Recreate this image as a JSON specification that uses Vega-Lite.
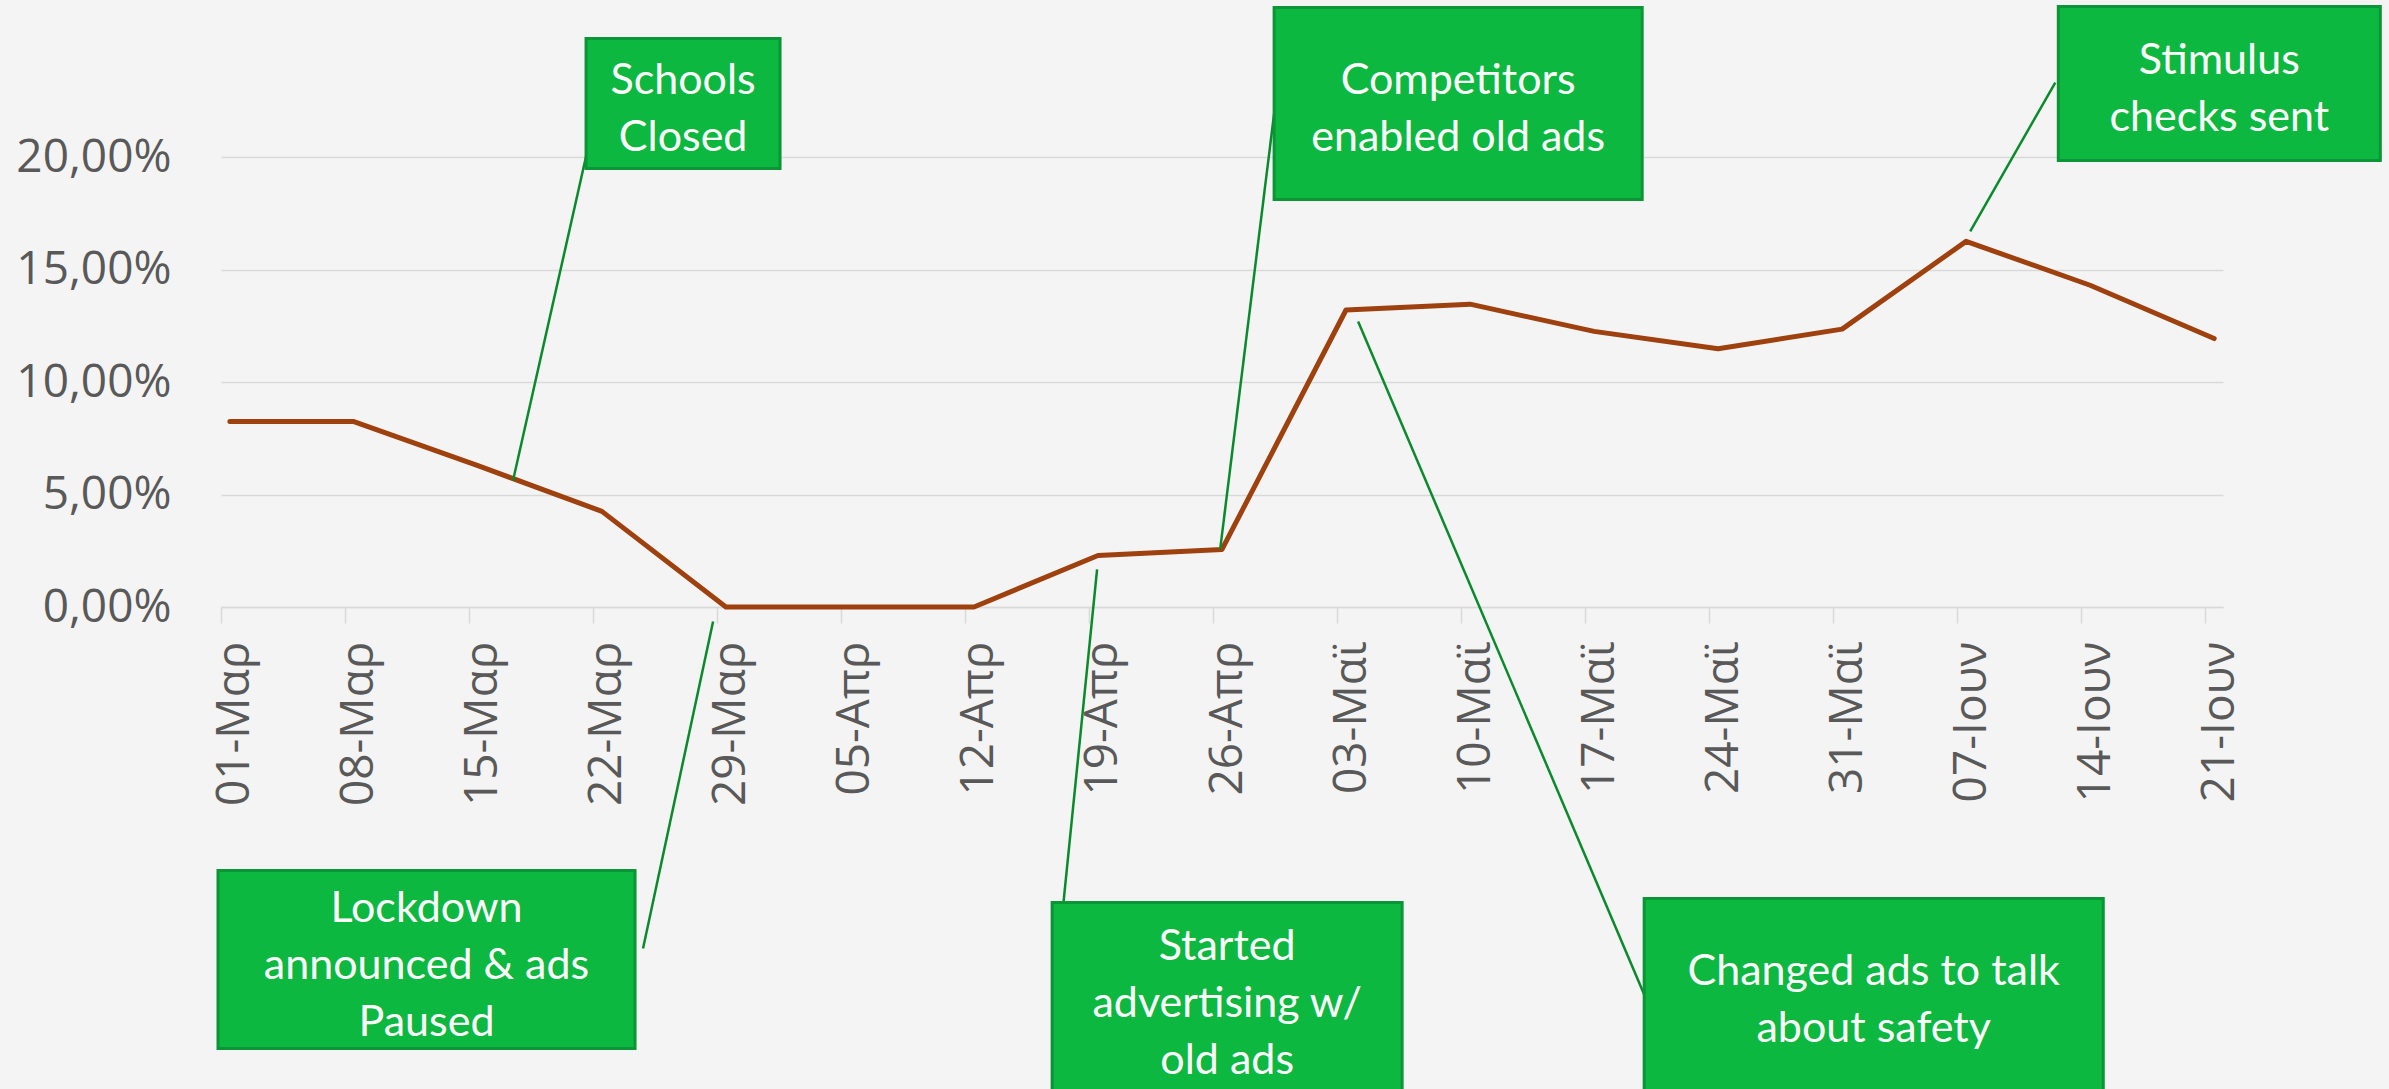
{
  "$schema": "https://vega.github.io/schema/vega-lite/v6.json",
  "autosize": {"type": "none"},
  "width": 2002,
  "height": 450,
  "padding": {"left": 221, "top": 157, "right": 166, "bottom": 482},
  "background": "#f4f4f4",
  "config": {"view": {"stroke": null}},
  "resolve": {"axis": {"x": "independent", "y": "independent"}},
  "layer": [
    {
      "data": {"values": [
        {"date": "2020-03-01", "rate": 0.0824},
        {"date": "2020-03-08", "rate": 0.0824},
        {"date": "2020-03-15", "rate": 0.0628},
        {"date": "2020-03-22", "rate": 0.0425},
        {"date": "2020-03-29", "rate": 0.0},
        {"date": "2020-04-05", "rate": 0.0},
        {"date": "2020-04-12", "rate": 0.0},
        {"date": "2020-04-19", "rate": 0.0229},
        {"date": "2020-04-26", "rate": 0.0256},
        {"date": "2020-05-03", "rate": 0.1320},
        {"date": "2020-05-10", "rate": 0.1346},
        {"date": "2020-05-17", "rate": 0.1225},
        {"date": "2020-05-24", "rate": 0.1148},
        {"date": "2020-05-31", "rate": 0.1235},
        {"date": "2020-06-07", "rate": 0.1625},
        {"date": "2020-06-14", "rate": 0.1430},
        {"date": "2020-06-21", "rate": 0.1193}
      ]},
      "mark": {"type": "line", "color": "#9e410e", "strokeWidth": 5, "strokeJoin": "round", "strokeCap": "round"},
      "encoding": {
        "x": {
          "field": "date", "type": "temporal",
          "scale": {"type": "utc", "nice": false,
            "domain": [{"year": 2020, "month": 2, "date": 29, "hours": 12, "utc": true},
                       {"year": 2020, "month": 6, "date": 21, "hours": 12, "utc": true}]},
          "axis": {
            "title": null,
            "grid": false,
            "values": [
              {"year": 2020, "month": 3, "date": 1, "utc": true},
              {"year": 2020, "month": 3, "date": 8, "utc": true},
              {"year": 2020, "month": 3, "date": 15, "utc": true},
              {"year": 2020, "month": 3, "date": 22, "utc": true},
              {"year": 2020, "month": 3, "date": 29, "utc": true},
              {"year": 2020, "month": 4, "date": 5, "utc": true},
              {"year": 2020, "month": 4, "date": 12, "utc": true},
              {"year": 2020, "month": 4, "date": 19, "utc": true},
              {"year": 2020, "month": 4, "date": 26, "utc": true},
              {"year": 2020, "month": 5, "date": 3, "utc": true},
              {"year": 2020, "month": 5, "date": 10, "utc": true},
              {"year": 2020, "month": 5, "date": 17, "utc": true},
              {"year": 2020, "month": 5, "date": 24, "utc": true},
              {"year": 2020, "month": 5, "date": 31, "utc": true},
              {"year": 2020, "month": 6, "date": 7, "utc": true},
              {"year": 2020, "month": 6, "date": 14, "utc": true},
              {"year": 2020, "month": 6, "date": 21, "utc": true}
            ],
            "labelExpr": "utcFormat(datum.value, '%d') + '-' + ['Ιαν','Φεβ','Μαρ','Απρ','Μαϊ','Ιουν','Ιουλ'][utcmonth(datum.value)]",
            "labelAngle": -90,
            "labelFont": "Open Sans",
            "labelFontSize": 46,
            "labelColor": "#595959",
            "labelPadding": 18,
            "labelOverlap": false,
            "labelFlush": false,
            "labelBound": false,
            "tickOffset": -9,
            "labelOffset": 14,
            "tickSize": 16,
            "tickWidth": 1.5,
            "tickColor": "#d9d9d9",
            "domainColor": "#d9d9d9",
            "domainWidth": 1.5
          }
        },
        "y": {
          "field": "rate", "type": "quantitative",
          "scale": {"domain": [0, 0.2], "nice": false},
          "axis": {
            "title": null,
            "values": [0, 0.05, 0.1, 0.15, 0.2],
            "labelExpr": "replace(format(datum.value, '.2%'), '.', ',')",
            "labelFont": "Open Sans",
            "labelFontSize": 46,
            "labelColor": "#595959",
            "labelPadding": 50,
            "ticks": false,
            "domain": false,
            "grid": true,
            "gridColor": "#d9d9d9",
            "gridWidth": 1.5
          }
        }
      }
    },
    {
      "data": {
        "values": [
          {"note": "Schools\nClosed", "bx1": "2020-03-21T02:30:00Z", "bx2": "2020-04-01T01:18:00Z", "by1": 0.2527, "by2": 0.1949, "tx": "2020-03-26T14:00:00Z", "ty": 0.2358, "lx1": "2020-03-21T16:06:00Z", "ly1": 0.2200, "lx2": "2020-03-16T23:36:00Z", "ly2": 0.0562},
          {"note": "Competitors\nenabled old ads", "bx1": "2020-04-28T22:36:00Z", "bx2": "2020-05-19T17:12:00Z", "by1": 0.2664, "by2": 0.1811, "tx": "2020-05-09T07:54:00Z", "ty": 0.2362, "lx1": "2020-04-28T22:36:00Z", "ly1": 0.2193, "lx2": "2020-04-25T21:30:00Z", "ly2": 0.0256},
          {"note": "Stimulus\nchecks sent", "bx1": "2020-06-12T04:54:00Z", "bx2": "2020-06-30T09:06:00Z", "by1": 0.2669, "by2": 0.1984, "tx": "2020-06-21T07:00:00Z", "ty": 0.2449, "lx1": "2020-06-12T00:48:00Z", "ly1": 0.2331, "lx2": "2020-06-07T05:36:00Z", "ly2": 0.1669},
          {"note": "Lockdown\nannounced & ads\nPaused", "bx1": "2020-02-29T07:56:00Z", "bx2": "2020-03-23T20:54:00Z", "by1": -0.1171, "by2": -0.1962, "tx": "2020-03-12T02:24:00Z", "ty": -0.1318, "lx1": "2020-03-24T07:42:00Z", "ly1": -0.1518, "lx2": "2020-03-28T06:36:00Z", "ly2": -0.0064},
          {"note": "Started\nadvertising w/\nold ads", "bx1": "2020-04-16T09:54:00Z", "bx2": "2020-05-06T04:00:00Z", "by1": -0.1313, "by2": -0.2189, "tx": "2020-04-26T07:00:00Z", "ty": -0.1491, "lx1": "2020-04-16T11:12:00Z", "ly1": -0.1771, "lx2": "2020-04-18T22:48:00Z", "ly2": 0.0167},
          {"note": "Changed ads to talk\nabout safety", "bx1": "2020-05-19T19:54:00Z", "bx2": "2020-06-14T17:48:00Z", "by1": -0.1296, "by2": -0.2189, "tx": "2020-06-01T18:48:00Z", "ty": -0.1602, "lx1": "2020-05-19T19:54:00Z", "ly1": -0.1722, "lx2": "2020-05-03T16:24:00Z", "ly2": 0.1269}
        ],
        "format": {"parse": {"bx1": "date", "bx2": "date", "tx": "date", "lx1": "date", "lx2": "date"}}
      },
      "layer": [
        {
          "mark": {"type": "rule", "color": "#0a8a2c", "strokeWidth": 2.5},
          "encoding": {
            "x": {"field": "lx1", "type": "temporal", "axis": null},
            "x2": {"field": "lx2"},
            "y": {"field": "ly1", "type": "quantitative", "axis": null},
            "y2": {"field": "ly2"}
          }
        },
        {
          "mark": {"type": "rect", "color": "#0cb840", "stroke": "#0a9636", "strokeWidth": 3},
          "encoding": {
            "x": {"field": "bx1", "type": "temporal", "axis": null},
            "x2": {"field": "bx2"},
            "y": {"field": "by1", "type": "quantitative", "axis": null},
            "y2": {"field": "by2"}
          }
        },
        {
          "mark": {"type": "text", "color": "#ffffff", "font": "Lato", "fontSize": 43, "lineHeight": 57, "lineBreak": "\n", "align": "center", "baseline": "middle", "dy": 5},
          "encoding": {
            "x": {"field": "tx", "type": "temporal", "axis": null},
            "y": {"field": "ty", "type": "quantitative", "axis": null},
            "text": {"field": "note", "type": "nominal"}
          }
        }
      ]
    }
  ]
}
